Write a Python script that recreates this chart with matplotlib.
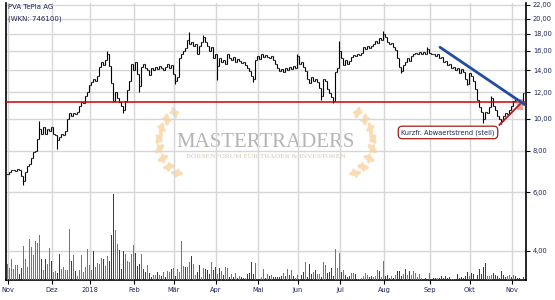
import numpy as np
import matplotlib.pyplot as plt
from matplotlib.patches import Rectangle, Ellipse
from matplotlib.ticker import FixedLocator, FuncFormatter, NullLocator

# daily closes, oldest first
closes = [6.8, 6.9, 7.0, 7.0, 6.95, 7.05, 7.0, 6.7, 6.5, 6.9,
          7.2, 7.3, 7.6, 7.9, 8.0, 8.7, 9.3, 9.0, 9.4, 9.0,
          9.3, 9.2, 9.4, 9.0, 8.9, 8.6, 8.8, 9.0, 8.9, 9.2,
          10.0, 10.4, 10.2, 10.4, 10.3, 10.5, 10.9, 11.2, 11.1, 11.7,
          12.0, 12.6, 12.9, 13.2, 13.0, 13.4, 14.3, 14.8, 14.5, 15.0,
          15.6, 14.4, 12.8, 11.3, 12.0, 11.5, 11.2, 10.9, 10.6, 11.3,
          12.2, 13.0, 14.6, 14.0, 14.8, 13.6, 12.5, 14.3, 14.6, 14.2,
          14.0, 13.5, 14.2, 14.0, 14.3, 14.1, 14.4, 14.2, 14.0, 14.3,
          14.6, 14.2, 14.5, 13.6, 13.0, 13.3, 15.2, 15.6, 16.0, 16.3,
          17.2, 16.8, 17.0, 16.5, 16.8, 15.6, 16.5, 17.0, 17.6, 17.0,
          16.6, 16.0, 16.4, 15.2, 15.6, 14.4, 15.2, 14.8, 15.0, 14.6,
          15.6, 15.2, 15.0, 15.3, 14.8, 15.1, 14.9, 14.7, 14.8, 14.5,
          14.2, 13.9, 13.4, 13.2, 15.0, 15.4, 15.1, 15.6, 15.3, 15.5,
          15.3, 15.2, 15.4, 15.0, 14.6, 14.2, 13.9, 14.1, 13.8, 14.2,
          14.0, 14.3, 14.1, 14.4, 14.2, 15.4, 14.6, 14.8, 14.3, 13.9,
          13.2, 12.8, 13.3, 13.0, 13.2, 12.9, 12.4, 11.7, 13.2, 13.0,
          12.3, 11.9, 11.6, 11.3, 13.8, 14.2, 16.0, 15.2, 14.5, 15.0,
          14.6, 14.9, 15.3, 15.5, 15.4, 15.6, 15.5, 15.8, 16.4, 16.2,
          16.5, 16.3, 16.5, 16.8, 17.1, 16.9, 17.5, 17.2, 18.0, 17.6,
          17.0, 16.8, 16.9, 16.4, 16.1, 15.2, 14.3, 13.9, 14.5, 14.8,
          15.2, 14.9, 15.4, 15.6, 15.8, 15.6, 15.9, 15.7, 15.9, 15.6,
          16.2, 15.8, 15.6, 15.7, 15.4, 15.6, 15.2, 15.3, 14.8, 14.9,
          14.5, 14.6, 14.2, 14.3, 14.0, 14.2, 13.7, 14.1, 13.8, 13.2,
          12.7, 13.7, 13.4, 13.0, 12.3, 11.4, 10.8, 10.5, 10.0, 10.5,
          10.4, 10.8, 11.5, 10.9, 10.6, 10.2, 10.0, 9.8, 10.2, 10.4,
          10.3, 10.6, 10.9, 11.3, 11.5, 11.2, 11.4, 11.3, 11.9]

# intraday extremes that stick out of the bars
spike_lows = {8: 6.3, 25: 8.1, 58: 10.4, 66: 12.0, 84: 12.7, 105: 13.1, 123: 12.9,
              157: 11.4, 163: 11.15, 197: 13.7, 230: 12.6, 238: 9.7, 247: 9.6}
spike_highs = {16: 9.8, 50: 16.0, 91: 18.2, 98: 17.8, 145: 15.6, 166: 17.1,
               188: 18.4, 210: 16.4, 242: 11.7}

# volume (relative units) and day direction g=up r=down
volume = [49, 37, 64, 34, 46, 46, 19, 37, 103, 64,
          40, 124, 100, 76, 118, 112, 136, 64, 31, 64,
          49, 97, 58, 25, 28, 22, 79, 34, 40, 31,
          31, 154, 58, 76, 28, 13, 31, 76, 25, 40,
          94, 46, 31, 88, 40, 52, 49, 67, 64, 43,
          73, 58, 136, 259, 151, 109, 91, 34, 88, 79,
          58, 55, 79, 106, 82, 43, 49, 79, 34, 25,
          46, 22, 10, 16, 16, 25, 16, 13, 25, 10,
          28, 25, 34, 37, 13, 34, 25, 118, 43, 40,
          40, 55, 73, 49, 16, 25, 46, 10, 37, 34,
          31, 19, 55, 31, 40, 19, 37, 28, 16, 40,
          37, 10, 19, 10, 22, 7, 13, 10, 7, 7,
          19, 22, 55, 19, 52, 4, 4, 10, 34, 7,
          19, 13, 16, 10, 10, 10, 10, 13, 22, 13,
          34, 16, 31, 13, 7, 16, 3, 16, 25, 55,
          10, 49, 19, 25, 31, 19, 19, 10, 55, 46,
          22, 25, 37, 13, 94, 37, 82, 25, 31, 16,
          10, 13, 22, 22, 19, 4, 4, 7, 13, 22,
          16, 10, 13, 10, 13, 31, 28, 10, 58, 13,
          16, 7, 13, 7, 16, 28, 28, 13, 19, 34,
          16, 28, 16, 28, 22, 10, 19, 7, 4, 7,
          4, 22, 4, 7, 7, 7, 7, 13, 7, 13,
          7, 10, 4, 4, 4, 19, 7, 10, 7, 13,
          25, 13, 22, 19, 4, 16, 34, 19, 40, 52,
          13, 13, 16, 22, 16, 13, 7, 28, 16, 10,
          13, 16, 10, 16, 13, 7, 7, 4, 10]
vol_dir = ("ggggggrrgg" "gggggggrgr" "ggrggrrggg" "ggrgrggggg" "gggrggggrg"
           "grrrggrrrg" "ggggrrrgrr" "grrggrgrgr" "ggrgrggggr" "ggrggrrggr"
           "rrgrrgrgrg" "grgrgrgrrg" "rrrrgrrggr" "gr"
           "grrrrrgrgr" "grgggrrgrr" "rgrggrggrr" "rrgggrgrrr" "ggrggggggr"
           "rgggrggrrr" "grgrrrgrgr" "ggggggrrrg" "rrrgrrrrrr" "ggrrrrrrrg"
           "rrrrrrrrgg" "grrrrrrrgg" "rgrrrrr")

month_labels = ['Nov', 'Dez', '2018', 'Feb', 'Mär', 'Apr', 'Mai', 'Jun',
                'Jul', 'Aug', 'Sep', 'Okt', 'Nov']
month_pos = [0.5, 22.5, 41.5, 63.5, 83.5, 104.5, 125.5, 145.5, 166.5,
             188.5, 211.5, 231.5, 252.5]
price_ticks = [4, 6, 8, 10, 12, 14, 16, 18, 20, 22]

resistance = 11.2
down_trend = ([216.5, 259.0], [16.4, 11.0])
up_trend = ([246.2, 256.5], [9.57, 11.05])

navy = '#1d2456'
fig = plt.figure(figsize=(5.55, 3.0), dpi=100)

# watermark layer in pixel coords
wm = fig.add_axes([0, 0, 1, 1], zorder=-1)
wm.set_xlim(0, 555)
wm.set_ylim(300, 0)
wm.axis('off')
leaf = '#fbdcb2'
for th in np.linspace(125, 240, 8):
    t = np.radians(th)
    x = 195 + 36 * np.cos(t)
    y = 142 - 36 * np.sin(t)
    for a, w, h in ((th - 55, 12, 5), (th - 125, 10, 4)):
        wm.add_patch(Ellipse((x, y), w, h, angle=a, color=leaf, lw=0))
        wm.add_patch(Ellipse((532 - x, y), w, h, angle=-a, color=leaf, lw=0))
wm.text(266, 147, 'MASTERTRADERS', family='Liberation Serif', fontsize=15,
        color='#b4b4b4', ha='center', va='baseline')
wm.text(266, 158, 'BÖRSENFORUM FÜR TRADER & INVESTOREN', family='Liberation Serif',
        fontsize=5.4, color='#d8c6b2', ha='center', va='baseline')

ax = fig.add_axes([6/555, 20/300, 520/555, 277/300])
ax.set_facecolor('none')
ax.set_yscale('log')
ax.set_ylim(3.26, 22.3)
ax.set_xlim(-0.5, 259.5)

idx = np.arange(len(closes))
c = np.array(closes)
o = np.r_[c[0], c[:-1]]
lo = np.minimum(o, c)
hi = np.maximum(o, c)
for k, v in spike_lows.items():
    lo[k] = min(lo[k], v)
for k, v in spike_highs.items():
    hi[k] = max(hi[k], v)
ax.vlines(idx, lo, hi, color='black', lw=0.8, zorder=3)
ax.hlines(o, idx - 0.5, idx, color='black', lw=0.8, zorder=3)
ax.hlines(c, idx, idx + 0.5, color='black', lw=0.8, zorder=3)

ax.axhline(resistance, color='#cc0000', lw=1.1, zorder=4)
ax.plot(*down_trend, color='#1f4e9e', lw=2, zorder=5, solid_capstyle='round')
ax.plot(*up_trend, color='#b01c1c', lw=1.3, zorder=5)
ax.add_patch(Rectangle((254.9, 10.6), 3.3, 0.86, color='#f08a8a', alpha=0.8, zorder=4, lw=0))
ax.text(220.5, 9.08, 'Kurzfr. Abwaertstrend (steil)', fontsize=4.8, color=navy,
        ha='center', va='center', zorder=6,
        bbox=dict(boxstyle='round,pad=0.45,rounding_size=0.6', fc='white', ec='#a51c1c', lw=0.9))

ax.grid(True, color='#d6d6d6', lw=1)
ax.set_axisbelow(True)
ax.spines['top'].set_visible(False)
for s in ['left', 'right', 'bottom']:
    ax.spines[s].set_linewidth(1.2)

axv = ax.twinx()
axv.set_ylim(0, 831)
axv.set_yticks([])
for s in axv.spines.values():
    s.set_visible(False)
vcol = ['#00c800' if d == 'g' else '#cc0000' for d in vol_dir]
axv.vlines(idx, 0, volume, colors=vcol, lw=0.72, antialiased=False)

# price scale on the right (twinx resets it to the left)
ax.yaxis.tick_right()
ax.yaxis.set_major_locator(FixedLocator(price_ticks))
ax.yaxis.set_minor_locator(NullLocator())
ax.yaxis.set_major_formatter(FuncFormatter(lambda v, p: f'{v:.2f}'.replace('.', ',')))
ax.set_xticks(month_pos)
ax.set_xticklabels(month_labels)
ax.tick_params(axis='y', length=3, width=0.8, pad=2, labelsize=4.8, labelcolor=navy)
ax.tick_params(axis='x', length=3, width=0.8, pad=2, labelsize=4.8, labelcolor=navy)

fig.text(8/555, 1 - 4/300, 'PVA TePla AG', fontsize=5, color=navy, va='top')
fig.text(8/555, 1 - 15/300, '(WKN: 746100)', fontsize=5, color=navy, va='top')

fig.savefig('out.png', dpi=100)
